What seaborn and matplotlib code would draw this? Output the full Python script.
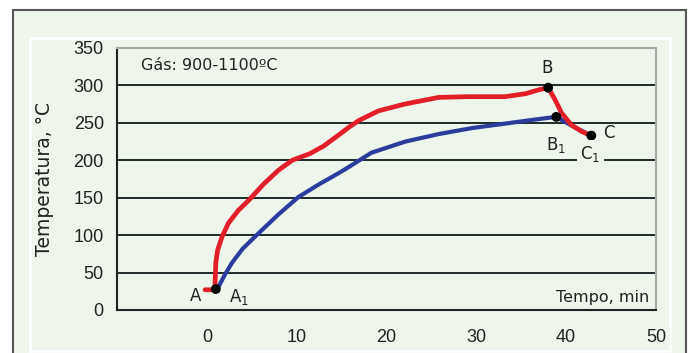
import matplotlib
matplotlib.use('Agg')
import matplotlib.pyplot as plt
import seaborn as sns
import pandas as pd
from matplotlib.patches import Rectangle

# red curve (A -> B -> C)
red_t = [-0.2, 0.6, 0.9, 1.0, 1.2, 1.7, 2.4, 3.5, 4.7, 6.3, 8.0, 9.5, 11.5,
         13.0, 14.7, 15.8, 16.9, 19.1, 22.0, 25.8, 29.0, 33.2, 35.5, 36.9,
         38.0, 38.8, 39.5, 40.6, 41.8, 42.8]
red_T = [27, 27, 30, 63, 80, 98, 116, 133, 147, 168, 187, 200, 209,
         219, 234, 244, 253, 266, 275, 284, 285, 285, 289, 294,
         297, 280, 263, 247, 238, 233]
# blue curve (A1 -> B1 -> C1)
blue_t = [1.0, 1.3, 2.0, 2.8, 4.0, 5.8, 8.0, 10.2, 12.5, 14.7, 15.8, 18.3,
          22.1, 25.8, 29.5, 33.2, 36.9, 38.9, 40.8, 42.8]
blue_T = [28, 31, 47, 63, 82, 103, 128, 151, 168, 183, 191, 210,
          225, 235, 243, 249, 255, 258, 245, 233]

pts_t = [1.0, 38.0, 38.9, 42.8]
pts_T = [28, 297, 258, 233]

xticks = [0, 10, 20, 30, 40, 50]
yticks = [0, 50, 100, 150, 200, 250, 300, 350]

bg = '#eef5eb'
tc = '#222222'
sns.set_style('white')
plt.rcParams['font.family'] = ['DejaVu Sans']

fig = plt.figure(figsize=(6.91, 3.53), dpi=100)
W, H = 691, 353
# outer frame and inner white line
fig.add_artist(Rectangle((13 / W, -0.05), (686 - 13) / W, (353 - 10) / H + 0.05,
                         transform=fig.transFigure, facecolor=bg,
                         edgecolor='#555555', lw=1.5, zorder=0))
fig.add_artist(Rectangle((30 / W, 1 - 351 / H), (670 - 30) / W, (351 - 38) / H,
                         transform=fig.transFigure, facecolor='none',
                         edgecolor='white', lw=1.8, zorder=0))

ax = fig.add_axes([117 / W, 1 - 310 / H, (656 - 117) / W, (310 - 48) / H])
ax.set_facecolor(bg)

for T in yticks[1:-1]:
    ax.axhline(T, color='#1f2a2a', lw=1.4, zorder=1)

red = pd.DataFrame({'t': red_t, 'T': red_T})
blue = pd.DataFrame({'t': blue_t, 'T': blue_T})
sns.lineplot(data=blue, x='t', y='T', sort=False, color='#2b3c9c', lw=3, ax=ax, zorder=3)
sns.lineplot(data=red, x='t', y='T', sort=False, color='#e21f28', lw=3.4, ax=ax, zorder=4)
sns.scatterplot(x=pts_t, y=pts_T, color='black', s=50, edgecolor='none', ax=ax, zorder=5)

ax.set_xlim(-10, 50)
ax.set_ylim(0, 350)
ax.set_xticks(xticks)
ax.set_yticks(yticks)
ax.tick_params(axis='both', direction='out', length=4.5, width=1.2, color=tc,
               labelsize=13, labelcolor=tc, pad=5)
ax.tick_params(axis='x', pad=9)
for lab in ax.get_xticklabels() + ax.get_yticklabels():
    lab.set_family('Liberation Sans')
ax.set_xlabel('')
ax.set_ylabel('Temperatura, °C', fontsize=13.5, color=tc, labelpad=14)

for s in ['left', 'bottom']:
    ax.spines[s].set_color(tc)
    ax.spines[s].set_linewidth(1.5)
for s in ['top', 'right']:
    ax.spines[s].set_color('#aaaaaa')
    ax.spines[s].set_linewidth(1.5)

ax.text(-7.3, 326, 'Gás: 900-1100ºC', fontsize=11.5, color=tc, va='center')
ax.text(49.3, 17, 'Tempo, min', fontsize=11.5, color=tc, ha='right', va='center')
ax.text(-1.3, 19, 'A', fontsize=12, color=tc, ha='center', va='center')
ax.text(3.6, 17, 'A$_1$', fontsize=12, color=tc, ha='center', va='center')
ax.text(37.9, 323, 'B', fontsize=12, color=tc, ha='center', va='center')
ax.text(38.9, 221, 'B$_1$', fontsize=12, color=tc, ha='center', va='center')
ax.text(44.8, 236, 'C', fontsize=12, color=tc, ha='center', va='center')
ax.text(42.7, 209, 'C$_1$', fontsize=12, color=tc, ha='center', va='center',
        bbox=dict(facecolor=bg, edgecolor='none', pad=2.5), zorder=6)

fig.savefig('out.png', dpi=100)
